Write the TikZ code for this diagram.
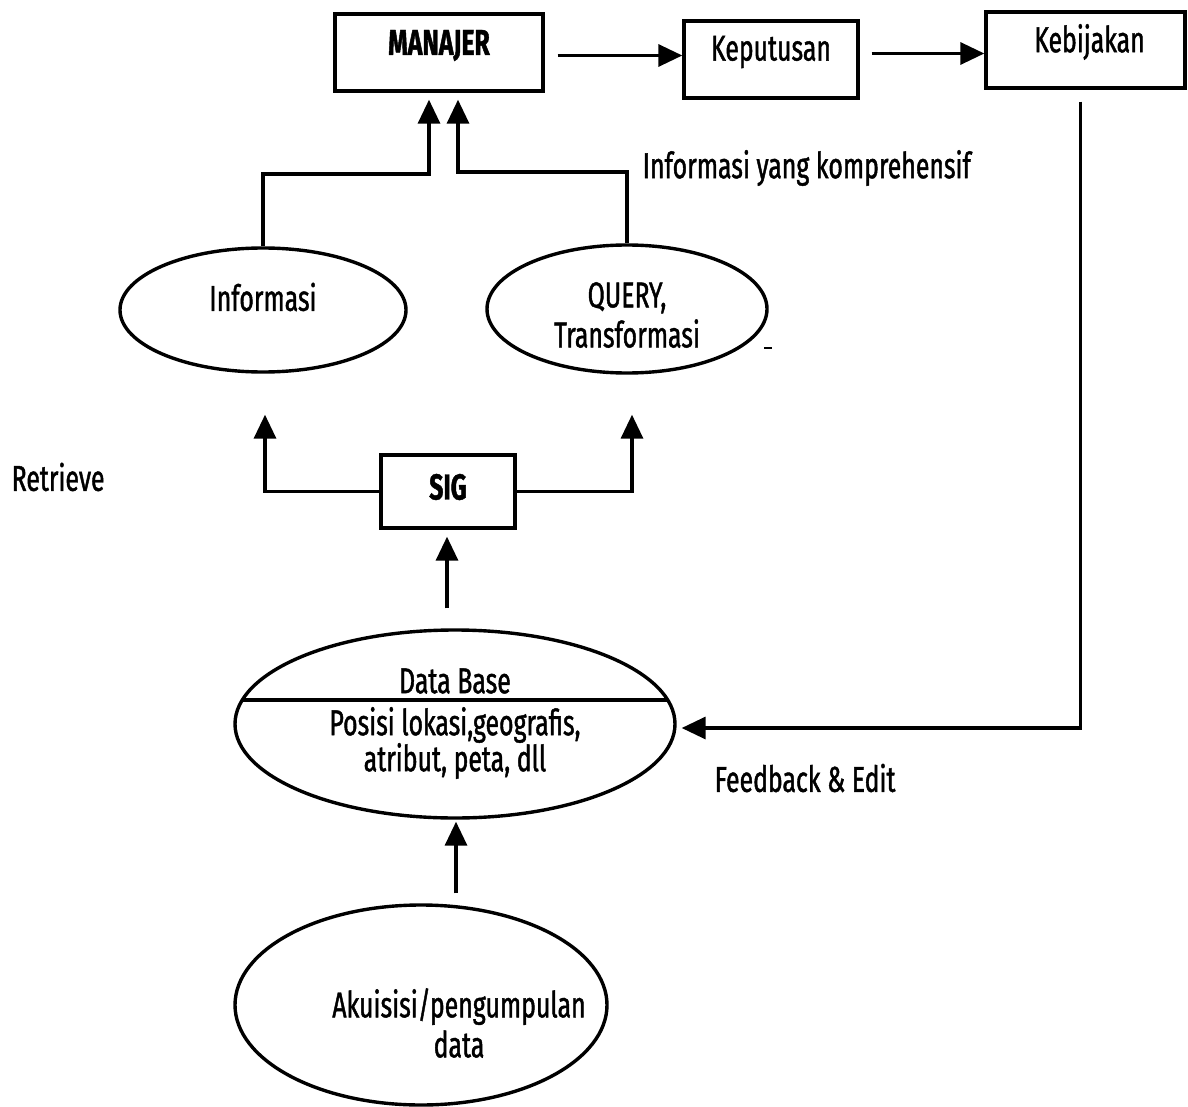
\documentclass[tikz,border=0pt]{standalone}
\usepackage{fontspec}
\setmainfont{Fira Sans}[FakeStretch=0.69,FakeBold=1.2]
\usetikzlibrary{arrows.meta,shapes.geometric,calc}
\begin{document}
\begin{tikzpicture}[x=0.5pt,y=-0.5pt,
  line width=1.7pt,
  font=\fontsize{18}{20}\selectfont,
  box/.style={draw,rectangle,inner sep=0pt},
  oval/.style={draw,ellipse,inner sep=0pt},
  txt/.style={inner sep=0pt,align=center},
  arr/.style={-{Triangle[length=12pt,width=11pt]}}]
\useasboundingbox (0,0) rectangle (1188,1107);

% top row of boxes
\node[box,minimum width=104pt,minimum height=38.5pt,
  label={[yshift=3.5pt,font=\fontsize{18}{20}\selectfont\bfseries]center:MANAJER}] (man) at (439,52.5) {};
\node[box,minimum width=87pt,minimum height=38.5pt,
  label={[yshift=3.75pt]center:Keputusan}] (kep) at (771,59.5) {};
\node[box,minimum width=99.5pt,minimum height=38pt,
  label={[yshift=4pt,xshift=2pt]center:Kebijakan}] (keb) at (1085.5,50) {};

% middle ovals
\node[oval,minimum width=143pt,minimum height=62pt,
  label={[yshift=6.5pt]center:Informasi}] (info) at (263,310) {};
\node[oval,minimum width=140pt,minimum height=64pt,
  label={[yshift=-3pt,align=center]center:QUERY,\\Transformasi}] (query) at (627,309) {};

% SIG box
\node[box,minimum width=67pt,minimum height=36.5pt,
  label={[yshift=2.25pt,font=\fontsize{18}{20}\selectfont\bfseries]center:SIG}] (sig) at (448,491.5) {};

% database oval with divider
\node[oval,minimum width=220pt,minimum height=94pt] (db) at (455,724) {};
\draw ($(db.center)+(-213,-24)$) -- ($(db.center)+(213,-24)$);
\node[txt] (dbtitle) at (455,681) {Data Base};
\node[txt] (dbbody) at (455,743) {Posisi lokasi,geografis,\\[-2pt]atribut, peta, dll};

% acquisition oval
\node[oval,minimum width=186pt,minimum height=100pt,
  label={[yshift=-9pt,xshift=19pt,align=center]center:Akuisisi/pengumpulan\\data}] (aku) at (421,1005) {};

% free labels
\node[txt,anchor=west] (komp) at (641,168) {Informasi yang komprehensif};
\node[txt,anchor=west] (retr) at (10,477) {Retrieve};
\node[txt,anchor=west] (fbe) at (713,778) {Feedback \& Edit};

% connectors
\coordinate (j1) at (429,174);
\coordinate (j2) at (458,172);
\draw[arr] ($(man.east)+(13,3)$) coordinate (m1) -- (kep.west |- m1);
\draw[arr] ($(kep.east)+(12,-6)$) coordinate (k1) -- (keb.west |- k1);
\draw[arr] (info.north) |- (j1) -- ([yshift=-3.5pt]man.south -| j1);
\draw[arr] (query.north) |- (j2) -- ([yshift=-3.5pt]man.south -| j2);
\draw[arr] (sig.west) -| ($(info.south)+(2,41)$);
\draw[arr] (sig.east) -| ($(query.south)+(5,40)$);
\draw[arr] ($(db.north -| sig.south)+(-1,-20)$) -- ($(sig.south)+(-1,7)$);
\draw[arr] ($(aku.north -| db.south)+(1,-10)$) -- ($(db.south)+(1,2)$);
\draw[arr] ($(keb.south)+(-5,12)$) |- ($(db.east)+(5,4)$);

% small stray tick beside the query oval
\draw[line width=1.2pt] (764,348) -- (772,348);
\end{tikzpicture}
\end{document}
